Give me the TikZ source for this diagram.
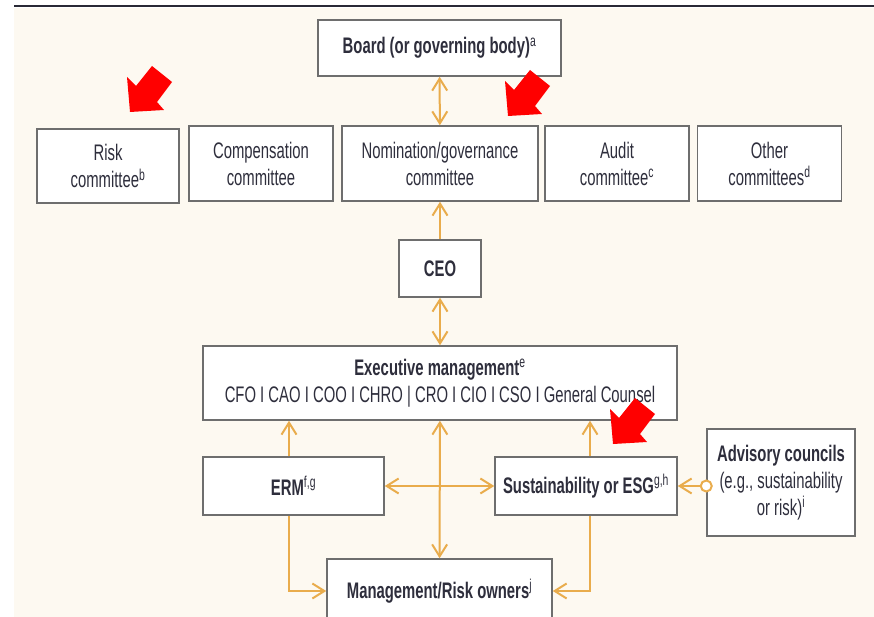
\documentclass[tikz,border=0pt]{standalone}
\usepackage{fontspec}
\setmainfont[FakeStretch=0.66]{Liberation Sans}
\usetikzlibrary{arrows.meta,calc}
\definecolor{cream}{HTML}{FDF9F1}
\definecolor{boxgray}{HTML}{6E6E6E}
\definecolor{gold}{HTML}{E9AC4C}
\definecolor{ink}{HTML}{2E2E3C}
\definecolor{alert}{HTML}{FF0000}
\begin{document}
\begin{tikzpicture}[x=1pt,y=-1pt,
  box/.style={draw=boxgray, line width=1.5pt, fill=white, inner sep=0pt,
    align=center, text=ink, font=\fontsize{22.5}{27}\selectfont},
  boldbox/.style={box, font=\fontsize{22.5}{27}\selectfont\bfseries},
  link/.style={draw=gold, line width=2pt},
  >={Straight Barb[length=12pt,width=15pt]}]
\useasboundingbox (0,0) rectangle (874,617);
\clip (0,0) rectangle (874,617);

% page background and top rule
\fill[cream] (14,8) rectangle (874,617);
\draw[line width=2pt, color=ink!90!black] (14,6.5) -- (874,6.5);

% board and committees
\node[boldbox, minimum width=243pt, minimum height=56pt] (board) at (439.5,48) {Board (or governing body)\textsuperscript{\mdseries a}};
\node[box, minimum width=142pt, minimum height=74pt] (risk) at (108,166) {Risk\\committee\textsuperscript{b}};
\node[box, minimum width=144pt, minimum height=75pt] (comp) at (261,163.5) {Compensation\\committee};
\node[box, minimum width=196pt, minimum height=75pt] (nom) at (440,163.5) {Nomination/governance\\committee};
\node[box, minimum width=144pt, minimum height=75pt] (audit) at (617,163.5) {Audit\\committee\textsuperscript{c}};
\node[box, minimum width=144pt, minimum height=75pt] (other) at (769.5,163.5) {Other\\committees\textsuperscript{d}};

% management chain
\node[boldbox, minimum width=82pt, minimum height=57pt] (ceo) at (440,268.5) {CEO};
\node[box, minimum width=474pt, minimum height=74pt] (exec) at (440,383)
  {\textbf{Executive management}\textsuperscript{e}\\CFO I CAO I COO I CHRO | CRO I CIO I CSO I General Counsel};
\node[boldbox, minimum width=181pt, minimum height=58pt] (erm) at (293.5,486) {ERM\textsuperscript{\mdseries f,g}};
\node[boldbox, minimum width=182pt, minimum height=58pt] (sust) at (586,486) {Sustainability or ESG\textsuperscript{\mdseries g,h}};
\node[boldbox, minimum width=225pt, minimum height=64pt] (mgmt) at (439.5,591) {Management/Risk owners\textsuperscript{\mdseries j}};
\node[box, minimum width=148pt, minimum height=107pt] (adv) at (781,482.5)
  {\textbf{Advisory councils}\\(e.g., sustainability\\or risk)\textsuperscript{i}};

% connector columns
\coordinate (ecol) at (289,0);
\coordinate (scol) at (590,0);

% connectors
\draw[link,<->] (board) -- (nom);
\draw[link,->] (ceo) -- (nom);
\draw[link,<->] (ceo) -- (exec);
\draw[link,->] (erm.north -| ecol) -- (exec.south -| ecol);
\draw[link,->] (sust.north -| scol) -- (exec.south -| scol);
\draw[link,<->] (exec) -- (mgmt);
\draw[link,<->] (erm) -- (sust);
\draw[link,->] (erm.south -| ecol) |- (mgmt.west);
\draw[link,->] (sust.south -| scol) |- (mgmt.east);
\node[circle, draw=gold, line width=2pt, fill=white, minimum size=11pt, inner sep=0pt] (ring) at (adv.west |- sust.east) {};
\draw[link,->] (ring) -- (sust.east);

% red pointers
\foreach \tx/\ty in {130/112, 508/116, 613/444}{
  \fill[alert] (\tx,\ty) -- ++(-3,-35) -- ++(9,9) -- ++(16,-20) -- ++(20,16)
    -- ++(-15,20) -- ++(7,8) -- cycle;
}
\end{tikzpicture}
\end{document}
